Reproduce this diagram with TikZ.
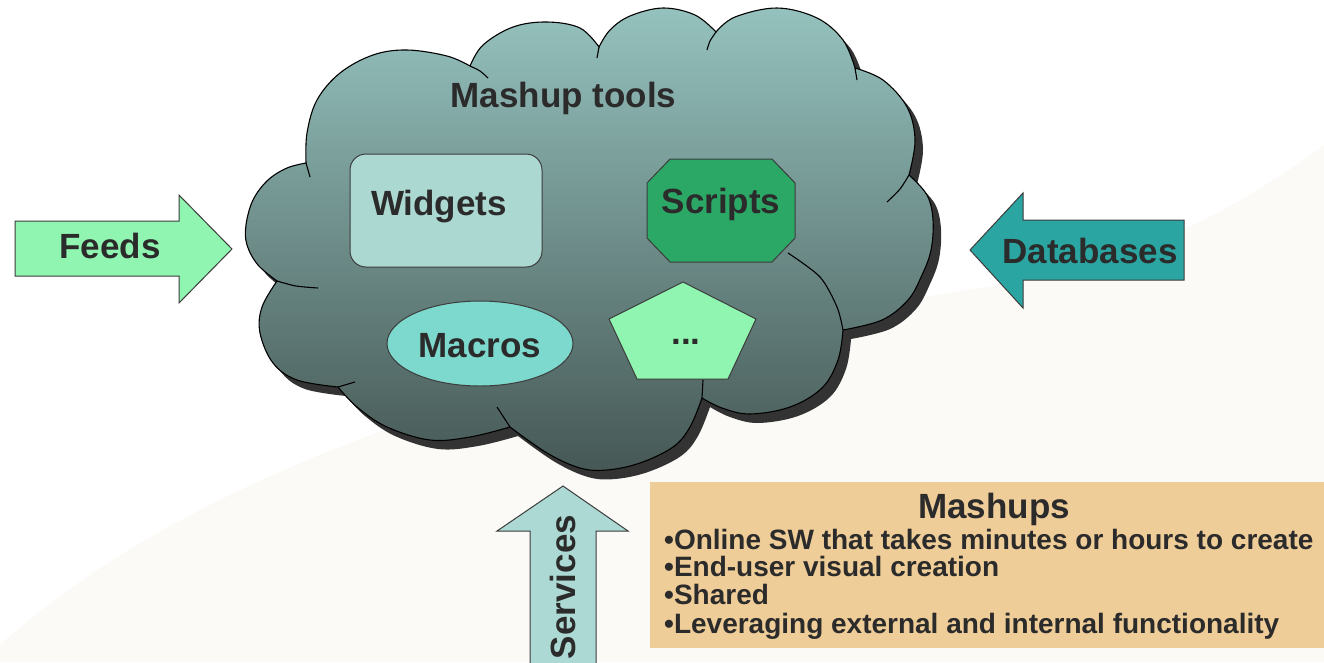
\documentclass[tikz,border=0pt]{standalone}
\usepackage{fontspec}
\setmainfont{Liberation Sans}
\usetikzlibrary{shapes.geometric}

\definecolor{inkc}{HTML}{2B2B2B}
\definecolor{edgec}{HTML}{3C3C3C}
\definecolor{paperc}{HTML}{FCFAF6}
\definecolor{cloudtop}{HTML}{95C2BE}
\definecolor{cloudmid}{HTML}{6F908C}
\definecolor{cloudbot}{HTML}{465855}
\definecolor{shadowc}{HTML}{333333}
\definecolor{widgetc}{HTML}{ACD8D2}
\definecolor{scriptc}{HTML}{2BA866}
\definecolor{macroc}{HTML}{7DD8CD}
\definecolor{mintc}{HTML}{8FF5B0}
\definecolor{dbc}{HTML}{2AA5A2}
\definecolor{servc}{HTML}{ACD9D3}
\definecolor{notec}{HTML}{EFCD98}

% outline of the cloud, one smooth run per bump
\newcommand\cloudpath{(306,163)
  plot[smooth,tension=0.6] coordinates {(306,163) (307,133) (317,100) (340,73) (373,55) (407,50) (447,56) (470,66)}
  -- plot[smooth,tension=0.6] coordinates {(470,66) (483,45) (513,27) (547,22) (580,28) (599,47)}
  -- plot[smooth,tension=0.6] coordinates {(599,47) (610,30) (630,16) (663,8) (695,15) (716,32)}
  -- plot[smooth,tension=0.6] coordinates {(716,32) (735,17) (777,8) (817,18) (843,40) (855,68)}
  -- plot[smooth,tension=0.6] coordinates {(855,68) (883,80) (907,107) (915,140) (909,175)}
  -- plot[smooth,tension=0.6] coordinates {(909,175) (927,195) (933,220) (931,250) (922,275) (908,300) (882,320) (843,330)}
  -- plot[smooth,tension=0.6] coordinates {(843,330) (838,360) (822,388) (790,407) (750,414) (722,408) (702,398)}
  -- plot[smooth,tension=0.6] coordinates {(702,398) (690,427) (673,447) (640,463) (607,470) (580,468) (547,453) (510,427)}
  -- plot[smooth,tension=0.6] coordinates {(510,427) (470,437) (430,440) (387,427) (357,407) (338,387)}
  -- plot[smooth,tension=0.6] coordinates {(338,387) (297,380) (273,363) (260,333) (262,307) (277,281)}
  -- plot[smooth,tension=0.6] coordinates {(277,281) (258,265) (247,245) (246,225) (253,200) (268,180) (287,168) (306,163)}
  -- cycle}

\begin{document}
\begin{tikzpicture}[x=1pt,y=-1pt,
  edge/.style={draw=edgec, line width=1pt},
  cloudline/.style={draw=black, line width=1.1pt},
  lbl/.style={font=\fontsize{35}{40}\selectfont\bfseries, text=inkc, inner sep=0pt, anchor=base},
  notetitle/.style={font=\fontsize{35}{38}\selectfont\bfseries, text=inkc, inner sep=0pt, anchor=base},
  noteline/.style={font=\fontsize{28}{30}\selectfont\bfseries, text=inkc, inner sep=0pt, anchor=base west},
]
\useasboundingbox (0,0) rectangle (1324,662);
\fill[white] (0,0) rectangle (1324,662);
% pale sweep behind the lower right part
\fill[paperc] (0,645) .. controls (250,420) and (700,330) .. (1000,285)
  .. controls (1150,260) and (1250,200) .. (1324,145) -- (1324,662) -- (0,662) -- cycle;

% cloud: drop shadow, shaded body, inner strokes
\fill[shadowc, shift={(8,9)}] \cloudpath;
\path[cloudline, top color=cloudtop, middle color=cloudmid, bottom color=cloudbot] \cloudpath;
\draw[cloudline] plot[smooth] coordinates {(306,163) (310,177)};
\draw[cloudline] plot[smooth] coordinates {(470,66) (480,71) (488,78)};
\draw[cloudline] plot[smooth] coordinates {(599,47) (597,58)};
\draw[cloudline] plot[smooth] coordinates {(716,32) (710,41) (707,50)};
\draw[cloudline] plot[smooth] coordinates {(855,68) (857,80)};
\draw[cloudline] plot[smooth] coordinates {(909,175) (900,189) (887,202)};
\draw[cloudline] plot[smooth] coordinates {(843,330) (837,307) (820,277) (788,253)};
\draw[cloudline] plot[smooth] coordinates {(702,398) (703,380)};
\draw[cloudline] plot[smooth] coordinates {(510,427) (497,407)};
\draw[cloudline] plot[smooth] coordinates {(338,387) (355,382)};
\draw[cloudline] plot[smooth] coordinates {(277,281) (296,286) (318,288)};

\node[lbl] (title) at (563.5,107) {Mashup tools};

% tool shapes inside the cloud
\node[edge, fill=widgetc, rectangle, rounded corners=16pt, minimum width=192pt, minimum height=113pt, inner sep=0pt] (widgets) at (446,210.5) {};
\node[lbl] (widgets-t) at (439,215) {Widgets};

\draw[edge, fill=scriptc] (670,159) -- (772,159) -- (795,183) -- (795,238) -- (772,262)
  -- (670,262) -- (647,238) -- (647,183) -- cycle;
\node[lbl] (scripts-t) at (721,213) {Scripts};

\node[edge, fill=macroc, ellipse, minimum width=186pt, minimum height=85pt, inner sep=0pt] (macros) at (480,343.5) {};
\node[lbl] (macros-t) at (480,357) {Macros};

\draw[edge, fill=mintc] (683,282) -- (756,319) -- (728,379) -- (637,379) -- (609,319) -- cycle;
\node[lbl] (more-t) at (686,344) {...};

% incoming block arrows
\draw[edge, fill=mintc] (15,221) -- (179,221) -- (179,195) -- (232,249) -- (179,303) -- (179,276) -- (15,276) -- cycle;
\node[lbl] (feeds-t) at (110,258) {Feeds};

\draw[edge, fill=dbc] (970,250) -- (1023,193) -- (1023,220) -- (1184,220) -- (1184,280) -- (1023,280) -- (1023,308) -- cycle;
\node[lbl] (databases-t) at (1090,263) {Databases};

\draw[edge, fill=servc] (563,486) -- (628,531) -- (596,531) -- (596,666) -- (530,666) -- (530,531) -- (497,531) -- cycle;
\node[lbl, rotate=90] (services-t) at (575,587) {Services};

% summary note
\node[fill=notec, rectangle, minimum width=686pt, minimum height=166pt, inner sep=0pt, anchor=north west] (note) at (650,482) {};
\node[notetitle] (note-title) at (994,518.5) {Mashups};
\node[noteline] (note-1) at (664,549.3) {•Online SW that takes minutes or hours to create};
\node[noteline] (note-2) at (664,576.5) {•End-user visual creation};
\node[noteline] (note-3) at (664,604.5) {•Shared};
\node[noteline] (note-4) at (664,633.5) {•Leveraging external and internal functionality};
\end{tikzpicture}
\end{document}
